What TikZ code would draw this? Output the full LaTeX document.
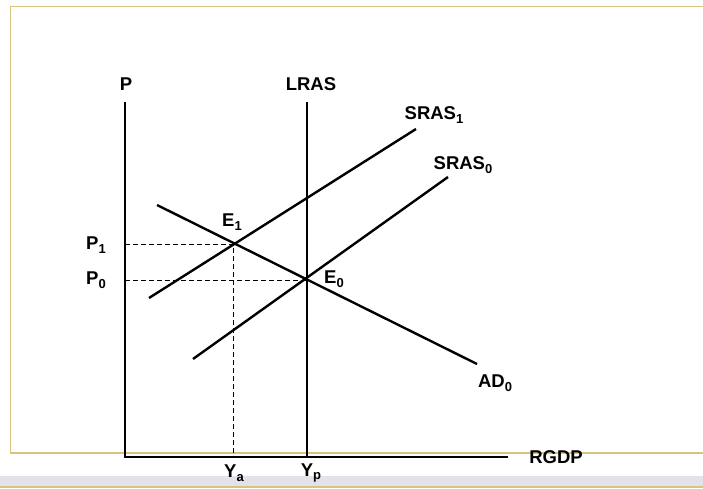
\documentclass[tikz,border=0pt]{standalone}
\usepackage{fontspec}
\setmainfont{Liberation Sans}
\usepackage{xcolor}
\usetikzlibrary{positioning}
\definecolor{frametan}{RGB}{216,196,122}
\definecolor{bargrey}{RGB}{226,226,232}
\newcommand{\idx}[1]{\raisebox{-0.35ex}{\fontsize{13}{13}\selectfont #1}}

\begin{document}
\begin{tikzpicture}[x=1pt, y=-1pt,
  every node/.style={font=\fontsize{18.5}{18.5}\selectfont\bfseries, inner sep=0pt},
  axis/.style={line width=2.8pt, line join=miter},
  curve/.style={line width=2.4pt},
  guide/.style={line width=0.9pt, dash pattern=on 5pt off 3pt}]
\useasboundingbox (0,0) rectangle (703,489);
% window frame and bottom bar
\draw[frametan, line width=1.6pt] (703,6.5) -- (10.5,6.5) -- (10.5,453) -- (703,453);
\fill[bargrey] (0,476) rectangle (703,486);
\draw[frametan, line width=1.6pt] (0,487) -- (703,487);
% points
\coordinate (O)    at (125,457);
\coordinate (Ptop) at (125,102);
\coordinate (Xend) at (508,457);
\coordinate (Ltop) at (307,102);
\coordinate (Lbot) at (307,457);
\coordinate (E1)   at (233,244);
\coordinate (E0)   at (307,280);
\coordinate (p1)   at (125,244);
\coordinate (p0)   at (125,280);
\coordinate (ya)   at (233,457);
\coordinate (ad-a) at (157,205);
\coordinate (ad-b) at (477,364);
\coordinate (s1-a) at (149,298);
\coordinate (s1-b) at (416,129);
\coordinate (s0-a) at (193,359);
\coordinate (s0-b) at (448,177);
% guides
\draw[guide] (p1) -- (E1) -- (ya);
\draw[guide] (p0) -- (E0);
% curves
\draw[curve] (ad-a) -- (ad-b);
\draw[curve] (s1-a) -- (s1-b);
\draw[curve] (s0-a) -- (s0-b);
\draw[axis] (Ltop) -- (Lbot);
\draw[axis] (Ptop) -- (O) -- (Xend);
% labels
\node (lblP)    at (126,84)  {P};
\node (lblLRAS) at (311,84)  {LRAS};
\node (lblS1)   at (434,115) {SRAS\idx{1}};
\node (lblS0)   at (463,165) {SRAS\idx{0}};
\node (lblE1)   at (232,222) {E\idx{1}};
\node (lblE0)   at (334,279) {E\idx{0}};
\node (lblAD)   at (495,383) {AD\idx{0}};
\node (lblP1)   at (96,245)  {P\idx{1}};
\node (lblP0)   at (96,280)  {P\idx{0}};
\node (lblX)    at (556,457) {RGDP};
\node (lblYa)   at (234,473) {Y\idx{a}};
\node (lblYp)   at (311,473) {Y\idx{p}};
\end{tikzpicture}
\end{document}
